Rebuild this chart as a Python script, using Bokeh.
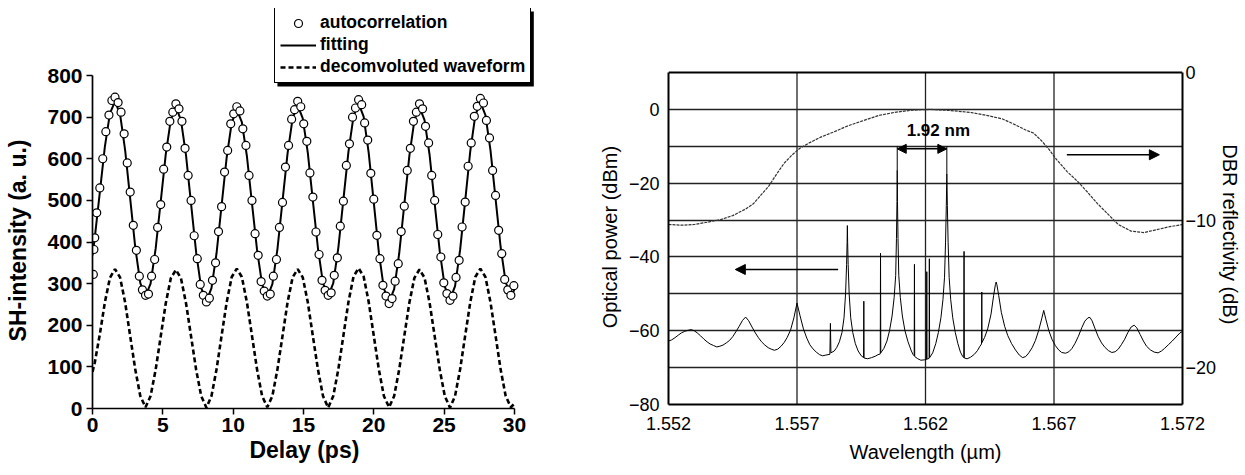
import numpy as np
from bokeh.plotting import figure
from bokeh.layouts import row
from bokeh.models import (Range1d, LinearAxis, FixedTicker, Legend, LegendItem, Span, BoxAnnotation,
                          Arrow, NormalHead, Label, NumeralTickFormatter)
from bokeh.embed import file_html
from bokeh.resources import INLINE

# ---------------- left panel data (SH autocorrelation) ----------------
acorr_x = [0.06, 0.10, 0.16, 0.30, 0.52, 0.73, 0.95, 1.17, 1.38, 1.60, 1.82, 2.03, 2.25, 2.47, 2.68, 2.90, 3.12, 3.33, 3.55, 3.77,
           3.98, 4.20, 4.42, 4.63, 4.85, 5.06, 5.28, 5.50, 5.71, 5.93, 6.15, 6.36, 6.58, 6.80, 7.01, 7.23, 7.45, 7.66, 7.88, 8.10,
           8.31, 8.53, 8.75, 8.96, 9.18, 9.39, 9.61, 9.83, 10.04, 10.26, 10.48, 10.69, 10.91, 11.13, 11.34, 11.56, 11.78, 11.99, 12.21, 12.43,
           12.64, 12.86, 13.08, 13.29, 13.51, 13.72, 13.94, 14.16, 14.37, 14.59, 14.81, 15.02, 15.24, 15.46, 15.67, 15.89, 16.11, 16.32, 16.54, 16.76,
           16.97, 17.19, 17.41, 17.62, 17.84, 18.05, 18.27, 18.49, 18.70, 18.92, 19.14, 19.35, 19.57, 19.79, 20.00, 20.22, 20.44, 20.65, 20.87, 21.09,
           21.30, 21.52, 21.74, 21.95, 22.17, 22.38, 22.60, 22.82, 23.03, 23.25, 23.47, 23.68, 23.90, 24.12, 24.33, 24.55, 24.77, 24.98, 25.20, 25.42,
           25.63, 25.85, 26.07, 26.28, 26.50, 26.71, 26.93, 27.15, 27.36, 27.58, 27.80, 28.01, 28.23, 28.45, 28.66, 28.88, 29.10, 29.31, 29.53, 29.75, 29.96]
acorr_y = [322, 382, 410, 470, 530, 600, 665, 705, 740, 748, 735, 712, 660, 590, 520, 440, 380, 318, 285, 272,
           275, 318, 358, 435, 490, 575, 628, 690, 712, 732, 720, 690, 625, 560, 500, 415, 360, 298, 272, 256,
           265, 308, 350, 425, 485, 568, 620, 684, 708, 725, 715, 672, 632, 560, 500, 420, 368, 305, 282, 270,
           275, 318, 358, 435, 495, 580, 632, 695, 718, 738, 725, 684, 642, 566, 508, 424, 370, 308, 284, 272,
           278, 320, 362, 438, 498, 584, 636, 700, 722, 742, 730, 686, 645, 565, 503, 416, 360, 296, 270, 252,
           264, 306, 348, 425, 486, 572, 625, 690, 712, 732, 720, 678, 638, 560, 500, 418, 364, 302, 276, 260,
           270, 315, 356, 436, 496, 582, 638, 702, 726, 745, 734, 692, 650, 572, 512, 428, 372, 310, 285, 272, 295]

fit_x = [0.0, 0.16, 0.52, 0.88, 1.24, 1.60, 1.96, 2.32, 2.68, 3.04, 3.40, 3.77, 4.13, 4.49, 4.85, 5.21, 5.57, 5.93,
         6.29, 6.65, 7.01, 7.37, 7.73, 8.10, 8.46, 8.82, 9.18, 9.54, 9.90, 10.26, 10.62, 10.98, 11.34, 11.70, 12.06, 12.43,
         12.79, 13.15, 13.51, 13.87, 14.23, 14.59, 14.95, 15.31, 15.67, 16.03, 16.39, 16.76, 17.12, 17.48, 17.84, 18.20, 18.56, 18.92,
         19.28, 19.64, 20.00, 20.36, 20.72, 21.09, 21.45, 21.81, 22.17, 22.53, 22.89, 23.25, 23.61, 23.97, 24.33, 24.69, 25.05, 25.42,
         25.78, 26.14, 26.50, 26.86, 27.22, 27.58, 27.94, 28.30, 28.66, 29.02, 29.38, 29.75, 30.0]
fit_y = [368, 410, 519, 629, 709, 738, 707, 621, 504, 387, 301, 270, 300, 384, 497, 611, 694, 724,
         693, 608, 491, 375, 289, 258, 289, 373, 488, 603, 687, 718, 688, 606, 493, 381, 298, 268,
         299, 383, 498, 613, 697, 728, 697, 614, 499, 385, 301, 270, 301, 386, 502, 617, 702, 733,
         701, 614, 495, 375, 288, 256, 287, 373, 490, 607, 693, 724, 693, 609, 493, 378, 293, 262,
         294, 381, 499, 618, 704, 736, 705, 620, 504, 388, 303, 272, 285]
deconv_x = fit_x
deconv_y = [88, 110, 178, 255, 314, 335, 315, 255, 174, 94, 30, 3, 30, 93, 173, 253, 313, 333,
            313, 253, 173, 93, 30, 2, 30, 94, 175, 255, 316, 336, 316, 255, 175, 94, 30, 3,
            30, 94, 174, 255, 315, 335, 315, 255, 174, 94, 30, 2, 30, 94, 175, 256, 317, 337,
            317, 256, 175, 94, 30, 3, 30, 94, 174, 254, 314, 334, 314, 254, 174, 94, 30, 2,
            30, 94, 175, 255, 316, 336, 316, 255, 175, 94, 30, 3, 12]
delay_ticks = [0, 5, 10, 15, 20, 25, 30]
sh_ticks = [0, 100, 200, 300, 400, 500, 600, 700, 800]

# ---------------- right panel data (optical spectrum + DBR) ----------------
spec_x = [1.55200, 1.55212, 1.55225, 1.55238, 1.55250, 1.55262, 1.55275, 1.55288, 1.55300, 1.55312, 1.55325, 1.55338,
          1.55350, 1.55362, 1.55375, 1.55388, 1.55400, 1.55412, 1.55425, 1.55438, 1.55450, 1.55462, 1.55475, 1.55488,
          1.55500, 1.55512, 1.55525, 1.55538, 1.55550, 1.55562, 1.55575, 1.55588, 1.55600, 1.55612, 1.55625, 1.55638,
          1.55650, 1.55662, 1.55675, 1.55688, 1.55700, 1.55712, 1.55725, 1.55738, 1.55750, 1.55762, 1.55775, 1.55788,
          1.55800, 1.55812, 1.55828, 1.55830, 1.55832, 1.55845, 1.55855, 1.55865, 1.55875, 1.55883, 1.55889, 1.55893,
          1.55895, 1.55896, 1.55897, 1.55899, 1.55903, 1.55909, 1.55917, 1.55927, 1.55938, 1.55950, 1.55958, 1.55959,
          1.55960, 1.55961, 1.55975, 1.55990, 1.56005, 1.56015, 1.56024, 1.56025, 1.56026, 1.56038, 1.56050, 1.56060,
          1.56070, 1.56078, 1.56084, 1.56087, 1.56089, 1.56090, 1.56091, 1.56093, 1.56096, 1.56102, 1.56110, 1.56120,
          1.56132, 1.56145, 1.56152, 1.56156, 1.56157, 1.56158, 1.56170, 1.56182, 1.56195, 1.56204, 1.56205, 1.56206,
          1.56214, 1.56215, 1.56216, 1.56228, 1.56240, 1.56250, 1.56260, 1.56268, 1.56274, 1.56278, 1.56281, 1.56283,
          1.56285, 1.56288, 1.56292, 1.56298, 1.56306, 1.56316, 1.56326, 1.56336, 1.56345, 1.56349, 1.56350, 1.56351,
          1.56362, 1.56375, 1.56390, 1.56402, 1.56412, 1.56418, 1.56419, 1.56420, 1.56430, 1.56442, 1.56455, 1.56465,
          1.56472, 1.56475, 1.56478, 1.56485, 1.56495, 1.56508, 1.56520, 1.56535, 1.56550, 1.56565, 1.56578, 1.56590,
          1.56602, 1.56615, 1.56628, 1.56640, 1.56652, 1.56660, 1.56668, 1.56680, 1.56692, 1.56705, 1.56718, 1.56730,
          1.56745, 1.56758, 1.56770, 1.56782, 1.56795, 1.56808, 1.56820, 1.56832, 1.56840, 1.56848, 1.56860, 1.56872,
          1.56885, 1.56898, 1.56912, 1.56925, 1.56938, 1.56950, 1.56962, 1.56975, 1.56988, 1.57000, 1.57012, 1.57022,
          1.57035, 1.57048, 1.57060, 1.57075, 1.57090, 1.57105, 1.57118, 1.57130, 1.57145, 1.57160, 1.57175, 1.57190, 1.57200]
spec_y = [-62.8, -62.5, -61.9, -61.2, -60.6, -60.2, -59.9, -59.7, -60.0, -60.6, -61.4, -62.3,
          -63.0, -63.6, -64.0, -64.4, -64.2, -63.9, -63.3, -62.6, -61.6, -60.3, -58.8, -57.2,
          -56.3, -57.3, -59.0, -60.6, -61.9, -63.0, -63.9, -64.6, -65.0, -65.3, -65.0, -64.2,
          -63.2, -61.8, -59.8, -56.5, -52.5, -56.0, -59.5, -62.0, -63.8, -64.9, -65.8, -66.5,
          -66.8, -66.6, -66.4, -58.0, -66.0, -65.5, -64.5, -63.0, -60.5, -56.5, -50.0, -42.0,
          -36.0, -31.5, -36.0, -42.0, -50.0, -56.5, -60.5, -63.5, -65.5, -66.8, -67.2, -67.3,
          -52.0, -67.4, -67.6, -67.3, -66.9, -66.5, -66.3, -39.0, -66.0, -64.8, -62.8, -60.0,
          -56.0, -51.0, -45.0, -35.0, -25.0, -16.5, -25.0, -35.0, -45.0, -51.0, -56.0, -60.0,
          -63.0, -65.5, -66.5, -66.8, -42.0, -67.0, -67.6, -68.0, -67.9, -67.8, -44.0, -67.7,
          -67.5, -40.5, -67.3, -66.0, -63.5, -60.5, -56.5, -51.5, -45.5, -36.0, -26.0, -17.5,
          -26.0, -36.0, -45.5, -51.5, -56.5, -60.5, -63.5, -65.8, -67.0, -67.3, -38.5, -67.4,
          -67.6, -67.2, -66.4, -65.4, -64.2, -63.6, -49.5, -63.2, -61.8, -59.5, -55.5, -50.5,
          -47.5, -46.8, -47.6, -50.5, -55.0, -58.8, -61.3, -63.5, -65.2, -66.6, -67.3, -67.0,
          -66.0, -64.6, -62.6, -60.0, -56.8, -54.5, -56.8, -60.0, -62.3, -64.0, -65.2, -65.9,
          -66.1, -65.7, -64.8, -63.4, -61.5, -59.2, -57.4, -56.5, -56.4, -57.3, -59.5, -61.6,
          -63.3, -64.5, -65.4, -65.9, -65.7, -65.0, -63.8, -62.3, -60.4, -59.0, -58.5, -59.2,
          -61.0, -62.8, -64.2, -65.2, -65.8, -66.0, -65.5, -64.8, -63.8, -62.8, -61.7, -60.6, -60.2]

dbr_x = [1.5520, 1.5525, 1.5530, 1.5535, 1.5540, 1.5545, 1.5550, 1.5553, 1.5556, 1.5559, 1.5562, 1.5565,
         1.5568, 1.5571, 1.5575, 1.5579, 1.5584, 1.5590, 1.5596, 1.5602, 1.5608, 1.5615, 1.5622, 1.5630,
         1.5638, 1.5645, 1.5650, 1.5655, 1.5659, 1.5662, 1.5665, 1.5668, 1.5671, 1.5675, 1.5679, 1.5683,
         1.5687, 1.5691, 1.5695, 1.5700, 1.5705, 1.5710, 1.5715, 1.5720]
dbr_y = [-10.3, -10.35, -10.3, -10.15, -9.98, -9.7, -9.25, -8.9, -8.3, -7.7, -6.9, -6.15,
         -5.6, -5.15, -4.75, -4.4, -4.05, -3.6, -3.25, -2.9, -2.7, -2.55, -2.5, -2.58,
         -2.72, -2.95, -3.15, -3.55, -3.9, -4.1, -4.6, -5.2, -5.9, -6.7, -7.35, -8.1,
         -8.9, -9.6, -10.3, -10.75, -10.85, -10.65, -10.45, -10.3]

main_peak_x = [1.56090, 1.56283]
main_peak_top = [-16.5, -17.5]
spacing_label = "1.92 nm"
wl_ticks = [1.552, 1.557, 1.562, 1.567, 1.572]
power_ticks = [-80, -60, -40, -20, 0]
power_grid = [-70, -60, -50, -40, -30, -20, -10, 0]
power_bounds = (-80, 10)
dbr_ticks = [-20, -10, 0]
dbr_bounds = (-22.5, 0)

FONT = "Liberation Sans"
NB = "\u00a0"   # non-breaking spaces used only to shift axis titles along their axis

# ---------------- left figure ----------------
p1 = figure(frame_width=443, frame_height=400, x_range=Range1d(0, 31.5), y_range=Range1d(0, 961),
            output_backend="svg", toolbar_location=None,
            min_border_left=92, min_border_right=55, min_border_top=8, min_border_bottom=10)
p1.outline_line_color = None
p1.grid.visible = False

r_dec = p1.line(deconv_x, deconv_y, line_color="black", line_width=2.6, line_dash="5 3")
r_fit = p1.line(fit_x, fit_y, line_color="black", line_width=2)
r_circ = p1.scatter(acorr_x, acorr_y, marker="circle", size=8, fill_color="white",
                    line_color="black", line_width=1.2)

for ax in (p1.xaxis[0], p1.yaxis[0]):
    ax.axis_line_width = 1.7
    ax.major_tick_line_width = 1.5
    ax.major_tick_out = 6
    ax.major_tick_in = 0
    ax.minor_tick_line_color = None
    ax.major_label_text_font = FONT
    ax.major_label_text_font_style = "bold"
    ax.major_label_text_font_size = "21px"
    ax.major_label_text_color = "black"
    ax.axis_label_text_font = FONT
    ax.axis_label_text_font_style = "bold"
    ax.axis_label_text_font_size = "23px"
    ax.axis_label_text_color = "black"
p1.xaxis[0].ticker = FixedTicker(ticks=delay_ticks)
p1.xaxis[0].bounds = (0, 30)
p1.xaxis[0].axis_label = "Delay (ps)" + NB * 3
p1.xaxis[0].major_label_standoff = 3
p1.xaxis[0].axis_label_standoff = 2
p1.yaxis[0].ticker = FixedTicker(ticks=sh_ticks)
p1.yaxis[0].bounds = (0, 800)
p1.yaxis[0].axis_label = "SH-intensity (a. u.)" + NB * 10
p1.yaxis[0].major_label_standoff = 4
p1.yaxis[0].axis_label_standoff = 13

# legend drop shadow (a few px down/right of the legend box)
p1.add_layout(BoxAnnotation(left=13.15, right=31.38, top=953.8, bottom=773.6,
                            fill_color="black", fill_alpha=1.0, line_color=None))
legend = Legend(items=[LegendItem(label="autocorrelation", renderers=[r_circ]),
                       LegendItem(label="fitting", renderers=[r_fit]),
                       LegendItem(label="decomvoluted waveform", renderers=[r_dec])],
                location=(182, 325), margin=0, padding=5, spacing=1,
                glyph_width=36, glyph_height=20, label_height=20, label_standoff=4,
                label_text_font=FONT, label_text_font_style="bold", label_text_font_size="17.5px",
                label_text_color="black",
                border_line_color="black", border_line_width=1.5, border_line_alpha=1.0,
                background_fill_color="white", background_fill_alpha=1.0)
p1.add_layout(legend)

# ---------------- right figure ----------------
# frame runs from the page top; the boxed region is -80..10 dBm (drawn by axes + a top span)
p2 = figure(frame_width=514, frame_height=396, x_range=Range1d(1.552, 1.572), y_range=Range1d(-80, 27.35),
            output_backend="svg", toolbar_location=None,
            min_border_left=78, min_border_right=40, min_border_top=8, min_border_bottom=10)
p2.extra_y_ranges = {"dbr": Range1d(-22.5, 4.3375)}
p2.outline_line_color = None
p2.xgrid.visible = False
p2.ygrid.ticker = FixedTicker(ticks=power_grid)
p2.ygrid.grid_line_color = "#222222"
p2.ygrid.grid_line_width = 1.3
p2.ygrid.grid_line_alpha = 1.0

p2.segment(x0=wl_ticks[1:-1], y0=[power_bounds[0]] * 3, x1=wl_ticks[1:-1], y1=[power_bounds[1]] * 3,
           line_color="#222222", line_width=1.3)
p2.add_layout(Span(location=power_bounds[1], dimension="width", line_color="black", line_width=2))

p2.line(dbr_x, dbr_y, y_range_name="dbr", line_color="#333333", line_width=1.2, line_dash="3 1")
p2.line(spec_x, spec_y, line_color="black", line_width=1)
p2.segment(x0=main_peak_x, y0=main_peak_top, x1=main_peak_x, y1=[-10, -10],
           line_color="black", line_width=1)

p2.add_layout(Arrow(start=NormalHead(size=9, fill_color="black", line_color="black"),
                    end=NormalHead(size=9, fill_color="black", line_color="black"),
                    x_start=main_peak_x[0], y_start=-10.7, x_end=main_peak_x[1], y_end=-10.7,
                    line_width=1.5))
p2.add_layout(Label(x=1.5625, y=-5.6, text=spacing_label, text_align="center", text_baseline="middle",
                    text_font=FONT, text_font_style="bold", text_font_size="17px", text_color="black"))
p2.add_layout(Arrow(end=NormalHead(size=10, fill_color="black", line_color="black"),
                    x_start=1.5675, y_start=-12.3, x_end=1.5711, y_end=-12.3, line_width=1.3))
p2.add_layout(Arrow(end=NormalHead(size=10, fill_color="black", line_color="black"),
                    x_start=1.5586, y_start=-43.4, x_end=1.5546, y_end=-43.4, line_width=1.3))

right_ax = LinearAxis(y_range_name="dbr", ticker=FixedTicker(ticks=dbr_ticks),
                      axis_label=NB * 10 + "DBR reflectivity (dB)", bounds=dbr_bounds)
p2.add_layout(right_ax, "right")

for ax in (p2.xaxis[0], p2.yaxis[0], right_ax):
    ax.axis_line_color = "black"
    ax.axis_line_width = 2
    ax.major_tick_out = 0
    ax.major_tick_in = 0
    ax.minor_tick_line_color = None
    ax.major_label_text_font = FONT
    ax.major_label_text_font_size = "18px"
    ax.major_label_text_color = "black"
    ax.axis_label_text_font = FONT
    ax.axis_label_text_font_style = "normal"
    ax.axis_label_text_font_size = "20px"
    ax.axis_label_text_color = "black"

p2.xaxis[0].ticker = FixedTicker(ticks=wl_ticks)
p2.xaxis[0].formatter = NumeralTickFormatter(format="0.000")
p2.xaxis[0].axis_label = "Wavelength (µm)"
p2.xaxis[0].major_label_standoff = 12
p2.xaxis[0].axis_label_standoff = 8
p2.yaxis[0].ticker = FixedTicker(ticks=power_ticks)
p2.yaxis[0].bounds = power_bounds
p2.yaxis[0].axis_label = "Optical power (dBm)" + NB * 11
p2.yaxis[0].major_label_standoff = 9
p2.yaxis[0].axis_label_standoff = 5
right_ax.major_label_standoff = 3
right_ax.axis_label_standoff = 0

layout = row(p1, p2)
open("out.html", "w").write(file_html(layout, INLINE))
